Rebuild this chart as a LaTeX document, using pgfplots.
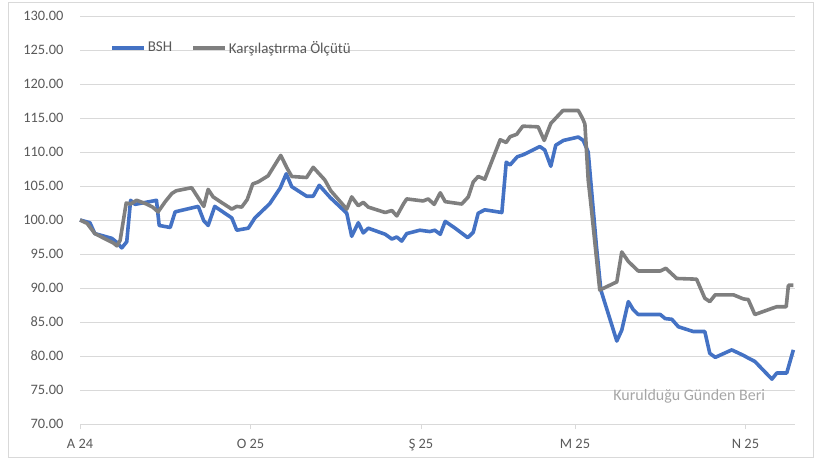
\documentclass[border=0pt]{standalone}
\usepackage{fontspec}
\setmainfont{Carlito}
\usepackage{pgfplots}
\pgfplotsset{compat=1.18}
\definecolor{bsh}{HTML}{4472C4}
\definecolor{bench}{HTML}{7F7F7F}
\definecolor{gridc}{HTML}{D9D9D9}
\definecolor{txt}{HTML}{595959}
\definecolor{note}{HTML}{A6A6A6}
\newcommand\tf{\fontsize{14.4}{17.3}\selectfont}
\newcommand\lf{\fontsize{15}{18}\selectfont}
\newcommand\nf{\fontsize{16}{19}\selectfont}
\begin{document}
\begin{tikzpicture}[x=1pt,y=1pt]
\path (0,0) rectangle (817,459);
\draw[gridc, line width=0.9pt] (8,1.5) rectangle (813,457);
\begin{axis}[
  at={(80pt,35pt)}, anchor=south west,
  scale only axis, width=715pt, height=408pt,
  xmin=0, xmax=130, ymin=70, ymax=130,
  axis x line*=bottom, axis y line*=left,
  y axis line style={draw=none},
  x axis line style={draw=gridc, line width=0.9pt},
  ytick={70,75,...,130},
  xtick={0,31,62,90,121},
  xticklabels={A 24, O 25, Ş 25, M 25, N 25},
  ymajorgrids, grid style={draw=gridc, line width=0.9pt},
  ytick style={draw=none},
  xtick style={draw=gridc, line width=0.9pt},
  major tick length=5pt, tick align=outside,
  tick label style={font=\tf, text=txt},
  yticklabel style={/pgf/number format/fixed, /pgf/number format/fixed zerofill,
    /pgf/number format/precision=2, /pgf/number format/1000 sep={},
    /pgf/number format/assume math mode=true, xshift=-8pt},
  xticklabel style={yshift=-7pt},
  legend style={at={(rel axis cs:0.042,0.922)}, anchor=west, draw=none, fill=none,
    font=\lf, text=txt, inner sep=0pt, /tikz/every even column/.append style={column sep=17pt}},
  legend columns=2,
  legend image code/.code={\draw[#1] (0pt,0pt) -- (32pt,0pt);},
  clip=false,
]
\addplot[bsh, line width=3.6pt, line join=round] coordinates {
(0,100.0) (1.8,99.6) (2.7,98.0) (5.8,97.3) (6.7,96.7) (7.6,95.9) (8.5,96.8)
(9.2,102.9) (10.0,102.3) (13.3,102.8) (13.9,102.9) (14.4,99.2) (16.4,98.9)
(17.3,101.2) (21.5,102.0) (22.5,99.9) (23.3,99.2) (24.5,102.0) (27.6,100.3)
(28.5,98.5) (30.6,98.8) (31.8,100.3) (34.5,102.4) (36.4,104.7) (37.5,106.8)
(38.5,104.9) (41.2,103.5) (42.4,103.5) (43.5,105.1) (45.5,103.3) (48.5,101.0)
(49.4,97.6) (50.6,99.6) (51.5,98.1) (52.4,98.8) (55.5,97.9) (56.7,97.2)
(57.6,97.5) (58.5,96.9) (59.4,98.0) (61.8,98.5) (63.6,98.3) (64.5,98.5)
(65.5,97.9) (66.4,99.8) (68.2,98.8) (70.5,97.4) (71.5,98.2) (72.4,101.0)
(73.6,101.5) (76.7,101.1) (77.5,108.5) (78.2,108.1) (79.5,109.3) (80.6,109.6)
(83.6,110.8) (84.5,110.3) (85.6,107.9) (86.5,111.0) (87.9,111.7) (90.6,112.2)
(91.5,111.7) (92.4,110.0) (93.9,96.1) (94.7,89.7) (97.6,82.2) (98.5,83.8)
(99.7,88.0) (100.6,86.8) (101.5,86.1) (105.5,86.1) (106.4,85.5) (107.6,85.4)
(108.8,84.3) (111.5,83.6) (113.6,83.6) (114.5,80.4) (115.5,79.8) (118.5,80.9)
(120.6,80.1) (121.5,79.7) (122.7,79.2) (125.8,76.6) (126.7,77.5) (128.5,77.5)
(129.7,80.9)
};
\addlegendentry{BSH}
\addplot[bench, line width=3.6pt, line join=round] coordinates {
(0,100.0) (1.3,99.5) (2.7,98.0) (6.1,96.6) (6.7,96.2) (7.3,97.0) (8.4,102.5)
(9.2,102.35) (10.3,102.9) (12.1,102.35) (13.2,101.9) (14.2,101.2) (15.5,102.7)
(16.7,103.9) (17.5,104.3) (20.3,104.75) (21.7,103.0) (22.5,102.0) (23.3,104.5)
(24.2,103.4) (25.5,102.7) (27.6,101.6) (28.5,102.0) (29.4,101.9) (30.4,103.0)
(31.4,105.3) (32.4,105.6) (34.2,106.5) (36.5,109.5) (37.6,107.7) (38.5,106.4)
(41.2,106.25) (42.4,107.75) (44.5,105.9) (45.6,104.3) (48.5,101.6) (49.4,103.4)
(50.6,102.1) (51.5,102.6) (52.4,101.9) (55.5,101.1) (56.7,101.4) (57.6,100.6)
(58.8,102.35) (59.4,103.1) (62.4,102.8) (63.3,103.1) (64.4,102.3) (65.5,104.0)
(66.4,102.7) (69.4,102.35) (70.6,103.4) (71.5,105.6) (72.4,106.4) (73.6,106.0)
(76.4,111.8) (77.5,111.4) (78.2,112.25) (79.4,112.6) (80.5,113.8) (83.3,113.7)
(84.4,111.7) (85.6,114.2) (87.8,116.1) (90.6,116.1) (91.4,114.9) (91.8,114.1)
(92.4,105.9) (93.0,101.5) (94.5,89.7) (97.6,90.9) (98.5,95.3) (99.7,93.9)
(101.5,92.5) (105.5,92.5) (106.5,92.9) (108.5,91.4) (112.1,91.3) (113.6,88.5)
(114.5,88.0) (115.5,89.0) (118.8,89.0) (120.6,88.4) (121.5,88.3) (122.7,86.1)
(125.8,87.0) (126.7,87.25) (128.4,87.25) (128.8,90.4) (129.7,90.4)
};
\addlegendentry{Karşılaştırma Ölçütü}
\node[anchor=east, font=\nf, text=note, inner sep=0pt] at (axis cs:124.6,74.0) {Kurulduğu Günden Beri};
\end{axis}
\end{tikzpicture}
\end{document}
